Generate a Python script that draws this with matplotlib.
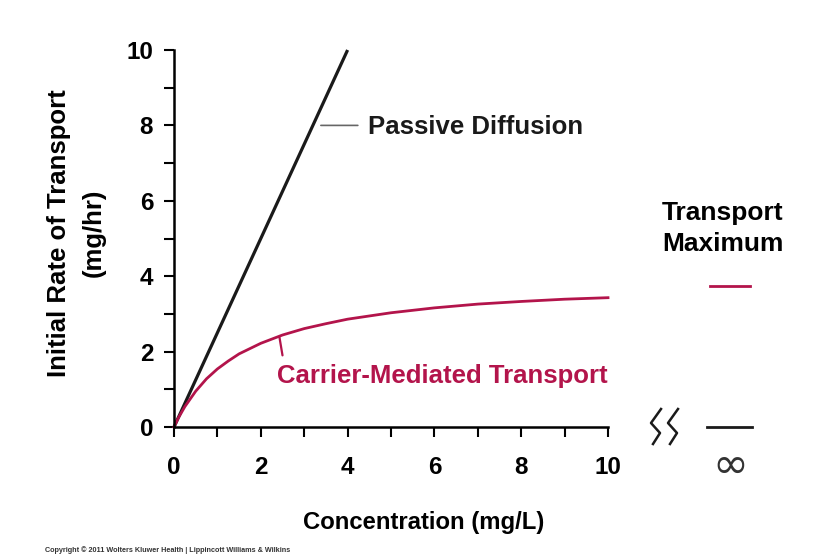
import numpy as np
import matplotlib
matplotlib.use("Agg")
import matplotlib.pyplot as plt
from matplotlib.lines import Line2D

# data
conc_passive = [0, 4]
rate_passive = [0, 10]

conc_carrier = [0, 0.1, 0.25, 0.5, 0.75, 1, 1.25, 1.5, 2, 2.5, 3, 3.5, 4, 5, 6, 7, 8, 9, 10]
rate_carrier = [0, 0.24, 0.54, 0.95, 1.28, 1.54, 1.75, 1.94, 2.22, 2.44, 2.61, 2.74, 2.86,
                3.03, 3.16, 3.26, 3.33, 3.39, 3.43]

ticks = [0, 2, 4, 6, 8, 10]
minor_ticks = [1, 3, 5, 7, 9]

RED = '#b3144b'
plt.rcParams['font.family'] = ['Liberation Sans', 'DejaVu Sans']
plt.rcParams['font.weight'] = 'bold'

fig = plt.figure(figsize=(8.23, 5.58), dpi=100)
W, H = 823, 558
ax = fig.add_axes([174 / W, 1 - 427 / H, (608 - 174) / W, (427 - 50) / H])

ax.plot(conc_passive, rate_passive, color='#1a1a1a', lw=2.3, clip_on=False, solid_capstyle='butt')
ax.plot(conc_carrier, rate_carrier, color=RED, lw=2.0, clip_on=False)

ax.set_xlim(0, 10)
ax.set_ylim(0, 10)
for s in ['top', 'right']:
    ax.spines[s].set_visible(False)
for s in ['left', 'bottom']:
    ax.spines[s].set_linewidth(1.8)
ax.set_xticks(ticks)
ax.set_yticks(ticks)
ax.set_xticks(minor_ticks, minor=True)
ax.set_yticks(minor_ticks, minor=True)
ax.tick_params(which='both', length=7, width=1.5, direction='out')
ax.tick_params(axis='x', which='major', labelsize=17.5, pad=14)
ax.tick_params(axis='y', which='major', labelsize=17.5, pad=8)

# leader lines and annotations
ax.annotate('', xy=(3.32, 8.0), xytext=(4.3, 8.0),
            arrowprops=dict(arrowstyle='-', color='#666666', lw=1.2))
ax.text(4.48, 7.95, 'Passive Diffusion', fontsize=18.5, fontweight='bold', va='center', color='#1a1a1a')
ax.annotate('', xy=(2.43, 2.38), xytext=(2.5, 1.9),
            arrowprops=dict(arrowstyle='-', color=RED, lw=1.6, shrinkA=0, shrinkB=0))
ax.text(2.38, 1.35, 'Carrier-Mediated Transport', fontsize=18.5, fontweight='bold',
        va='center', color=RED)

# axis titles
fig.text(59 / W, 1 - 233 / H, 'Initial Rate of Transport', rotation=90, fontsize=18.5,
         fontweight='bold', ha='center', va='center')
fig.text(94 / W, 1 - 233 / H, '(mg/hr)', rotation=90, fontsize=18.5,
         fontweight='bold', ha='center', va='center')
fig.text(424 / W, 1 - 523 / H, 'Concentration (mg/L)', fontsize=17.2, fontweight='bold',
         ha='center', va='center')

# right side key
fig.text(723 / W, 1 - 213 / H, 'Transport', fontsize=19, fontweight='bold', ha='center', va='center')
fig.text(723 / W, 1 - 244 / H, 'Maximum', fontsize=19, fontweight='bold', ha='center', va='center')
fig.add_artist(Line2D([710 / W, 750 / W], [1 - 286 / H, 1 - 286 / H], color=RED, lw=2.0))
fig.add_artist(Line2D([707 / W, 752 / W], [1 - 427 / H, 1 - 427 / H], color='#1a1a1a', lw=2.0))
for dx in [0, 17]:
    xs = [661 + dx, 651 + dx, 660 + dx, 653 + dx]
    ys = [409, 423, 433, 444]
    fig.add_artist(Line2D([x / W for x in xs], [1 - y / H for y in ys], color='#1a1a1a', lw=1.8))
fig.text(730 / W, 1 - 466 / H, '∞', fontsize=31, fontweight='normal', ha='center', va='center',
         family=['DejaVu Sans'], color='#333333')

fig.text(45 / W, 1 - 550 / H, 'Copyright \u00a9 2011 Wolters Kluwer Health | Lippincott Williams & Wilkins',
         fontsize=5.2, fontweight='bold', ha='left', va='center', color='#333333')

fig.savefig('out.png', dpi=100)
